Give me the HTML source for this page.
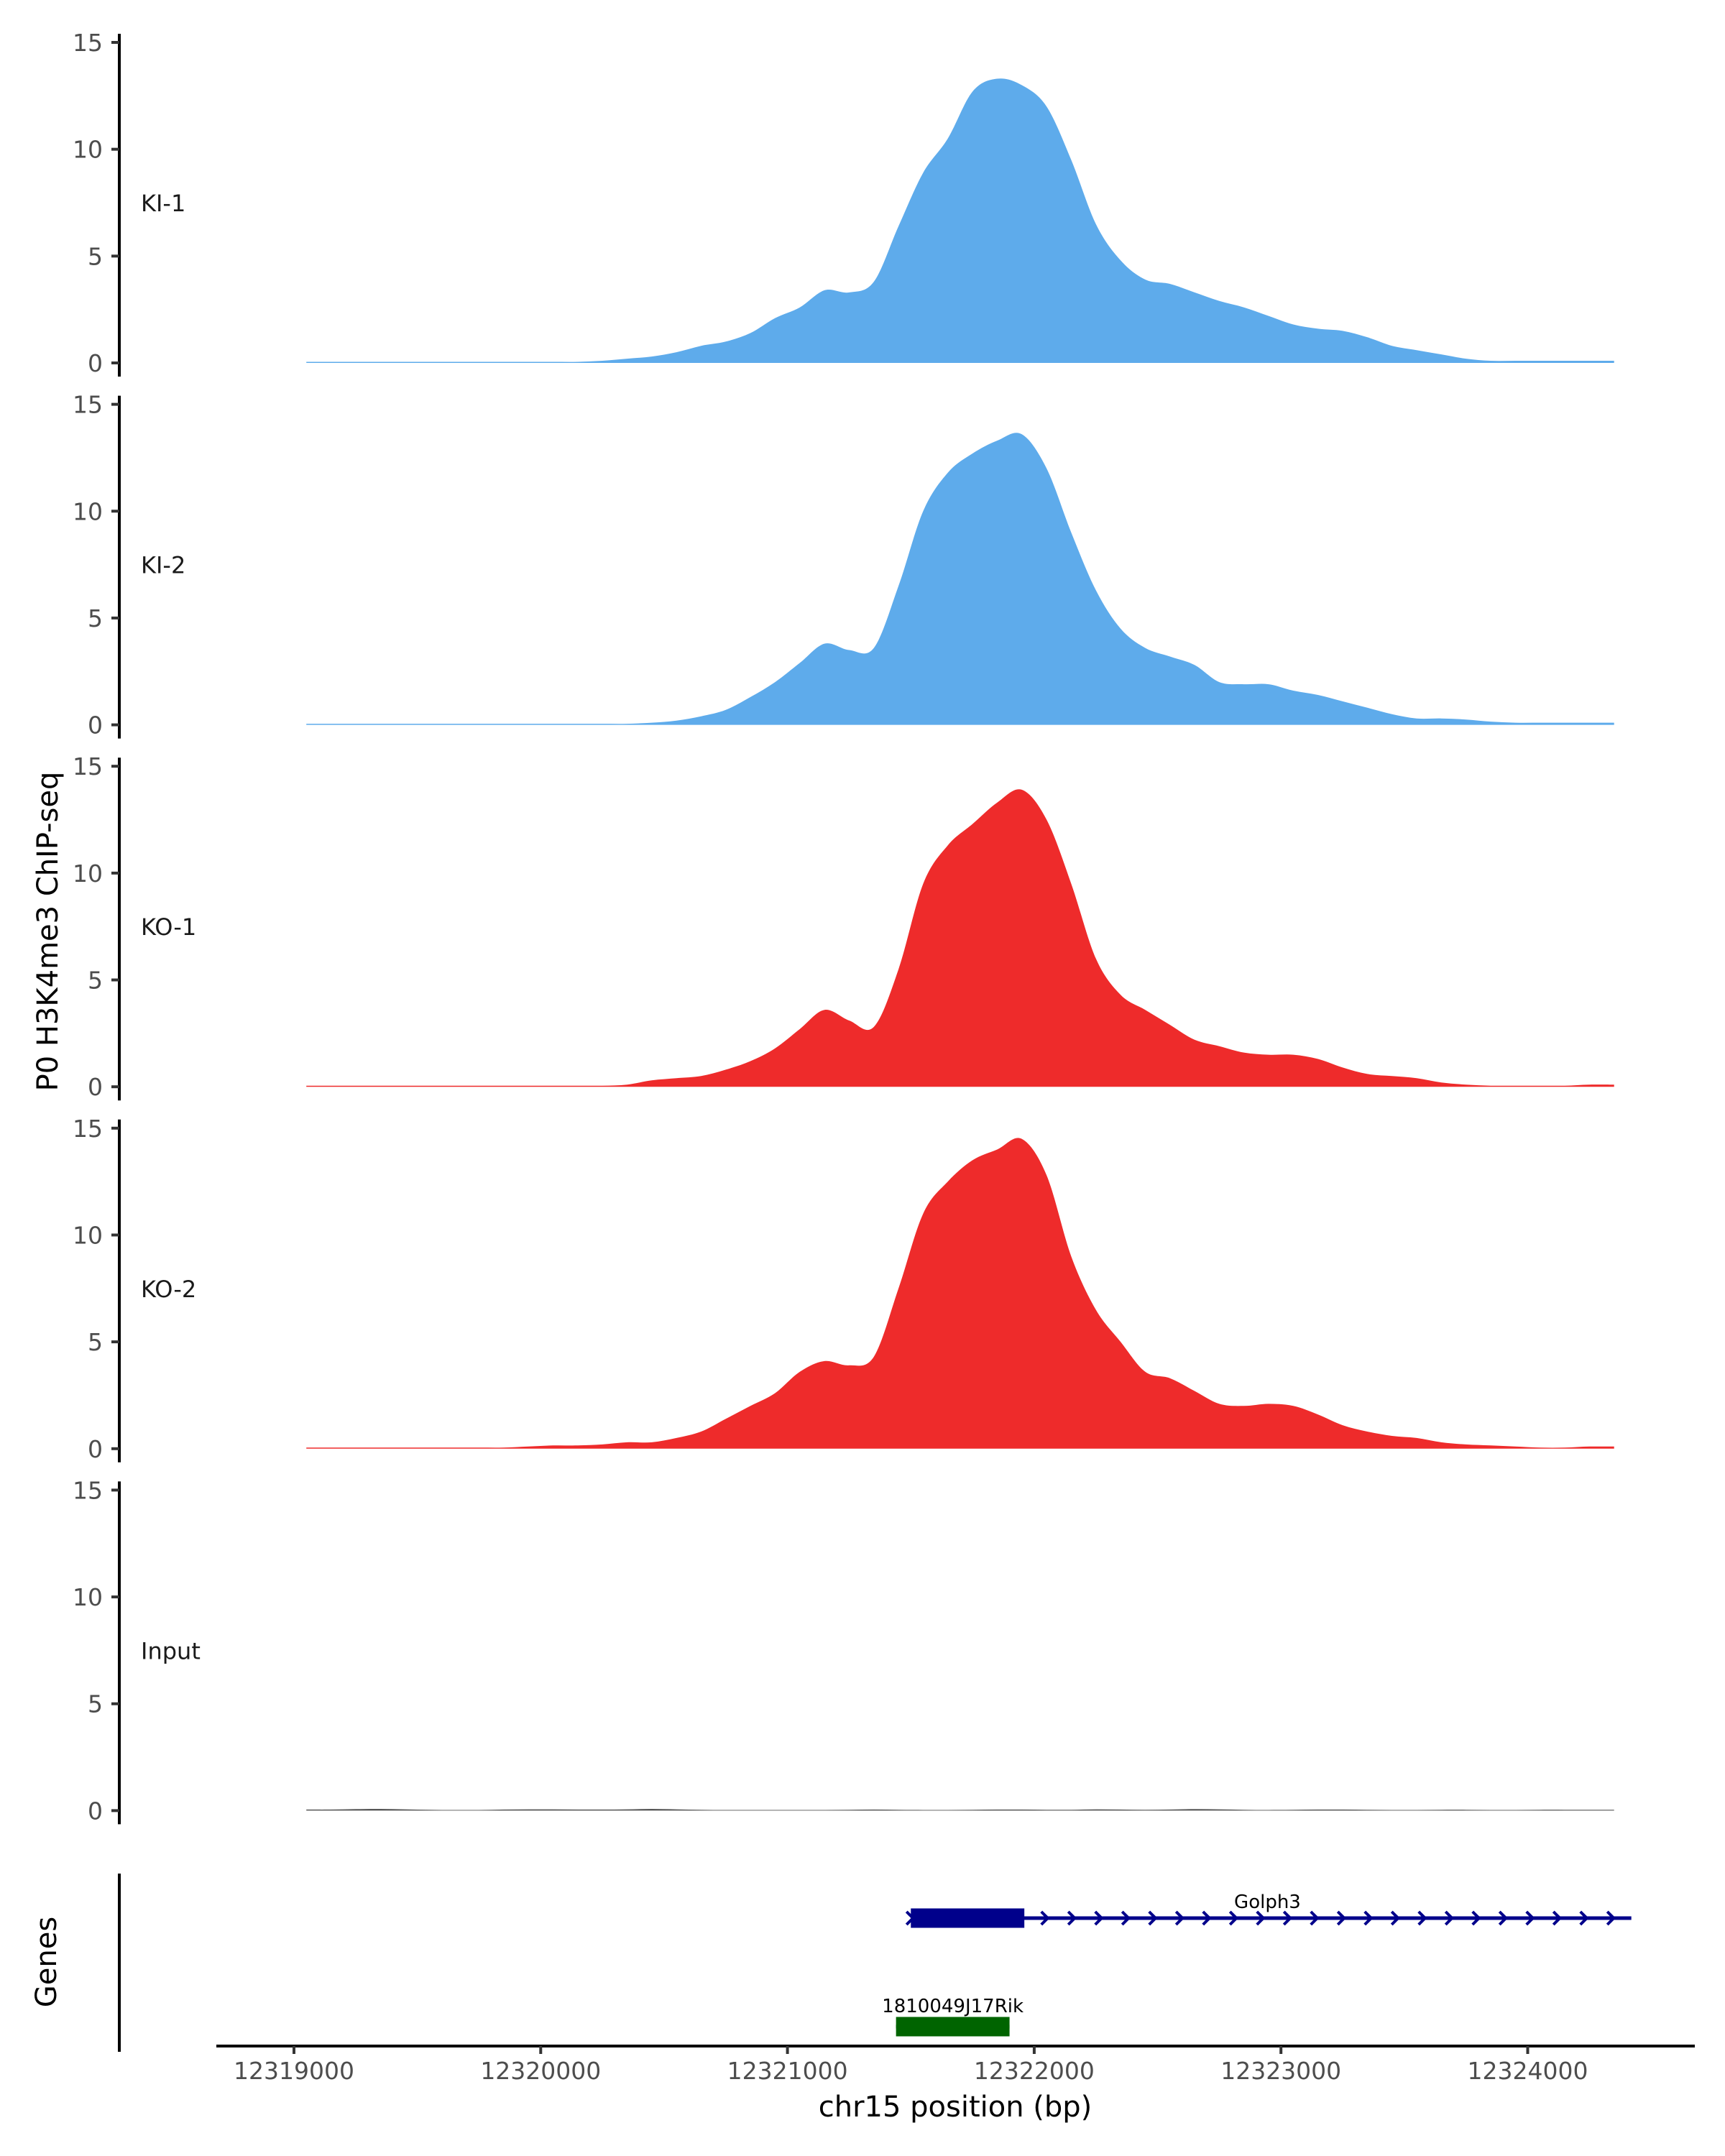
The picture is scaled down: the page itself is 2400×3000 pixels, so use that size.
<!DOCTYPE html>
<html><head><meta charset="utf-8"><style>
html,body{margin:0;padding:0;background:#fff;}
svg{display:block;font-family:"DejaVu Sans","Liberation Sans",sans-serif;}
</style></head><body>
<svg id="chart" width="2400" height="3000" viewBox="0 0 2400 3000"></svg>
<script>
const startBp = 12319050;
const stepBp = 100;
const sampleNames = ["KI-1","KI-2","KO-1","KO-2","Input"];
const sampleColors = ["#5eabeb","#5eabeb","#ee2b2b","#ee2b2b","#555555"];
const ki1 = [0.05,0.05,0.05,0.05,0.05,0.05,0.05,0.05,0.05,0.05,0.05,0.05,0.1,0.2,0.3,0.5,0.8,1.0,1.4,2.1,2.6,3.4,3.3,3.8,6.4,8.9,10.5,12.7,13.3,13.0,12.0,9.5,6.5,4.8,3.9,3.7,3.3,2.9,2.6,2.2,1.8,1.6,1.5,1.2,0.8,0.6,0.4,0.2,0.1,0.1,0.1,0.1,0.1,0.1];
const ki2 = [0.05,0.05,0.05,0.05,0.05,0.05,0.05,0.05,0.05,0.05,0.05,0.05,0.05,0.05,0.1,0.2,0.4,0.7,1.3,2.0,2.9,3.8,3.5,3.6,6.5,10.0,11.8,12.7,13.3,13.6,12.0,9.0,6.3,4.5,3.6,3.2,2.8,2.0,1.9,1.9,1.6,1.4,1.1,0.8,0.5,0.3,0.3,0.25,0.15,0.1,0.1,0.1,0.1,0.1];
const ko1 = [0.05,0.05,0.05,0.05,0.05,0.05,0.05,0.05,0.05,0.05,0.05,0.05,0.05,0.1,0.3,0.4,0.5,0.8,1.2,1.8,2.7,3.6,3.1,2.8,5.5,9.5,11.3,12.3,13.3,13.9,12.5,9.5,6.0,4.3,3.6,2.9,2.2,1.9,1.6,1.5,1.5,1.3,0.9,0.6,0.5,0.4,0.2,0.1,0.05,0.05,0.05,0.05,0.1,0.1];
const ko2 = [0.05,0.05,0.05,0.05,0.05,0.05,0.05,0.05,0.05,0.1,0.15,0.15,0.2,0.3,0.3,0.5,0.8,1.4,2.0,2.6,3.6,4.1,3.9,4.3,7.5,11.0,12.5,13.5,14.0,14.5,12.8,9.0,6.5,5.0,3.6,3.3,2.7,2.1,2.0,2.1,2.0,1.6,1.1,0.8,0.6,0.5,0.3,0.2,0.15,0.1,0.05,0.05,0.1,0.1];
const input = [0.05,0.05,0.07,0.08,0.06,0.04,0.03,0.03,0.05,0.06,0.06,0.05,0.05,0.06,0.08,0.06,0.04,0.03,0.03,0.03,0.03,0.03,0.04,0.05,0.04,0.03,0.03,0.04,0.05,0.05,0.04,0.04,0.06,0.05,0.04,0.05,0.07,0.06,0.04,0.03,0.04,0.05,0.05,0.04,0.03,0.03,0.04,0.04,0.03,0.03,0.04,0.04,0.04,0.04];
const seriesValues = [ki1,ki2,ko1,ko2,input];
const yTicks = [0,5,10,15];
const xTicks = [12319000,12320000,12321000,12322000,12323000,12324000];
const geneNames = ["Golph3","1810049J17Rik"];
const geneStarts = [12321500,12321440];
const geneEnds = [12324420,12321900];
const geneCdsStarts = [12321500,12321440];
const geneCdsEnds = [12321960,12321900];
const geneColors = ["#00008b","#006400"];

const NS="http://www.w3.org/2000/svg";
const svg=document.getElementById('chart');
function mk(tag,attrs,parent){const e=document.createElementNS(NS,tag);for(const k in attrs)e.setAttribute(k,attrs[k]);(parent||svg).appendChild(e);return e;}
function xScale(bp){return 409+(bp-12319000)*0.3433;}
const panelGap=503.6, unit=446/15;
function yScale(v,k){return 505+panelGap*k - v*unit;}

function smoothPath(pts){
  let d=`M${pts[0][0]},${pts[0][1]}`;
  for(let i=0;i<pts.length-1;i++){
    const p0=pts[Math.max(0,i-1)],p1=pts[i],p2=pts[i+1],p3=pts[Math.min(pts.length-1,i+2)];
    const c1=[p1[0]+(p2[0]-p0[0])/6,p1[1]+(p2[1]-p0[1])/6];
    const c2=[p2[0]-(p3[0]-p1[0])/6,p2[1]-(p3[1]-p1[1])/6];
    d+=`C${c1[0]},${c1[1]} ${c2[0]},${c2[1]} ${p2[0]},${p2[1]}`;
  }
  return d;
}

sampleNames.forEach((name,k)=>{
  const g=mk('g',{});
  
  
  const y0=yScale(0,k), y15=yScale(15,k);
  const ax=mk('line',{x1:166,x2:166,y1:y15-12,y2:y0+19,stroke:'#000','stroke-width':4},g);
  
  
  yTicks.forEach(t=>{
    const ty=yScale(t,k);
    const tk=mk('line',{x1:155,x2:166,y1:ty,y2:ty,stroke:'#333','stroke-width':4},g);
    
    
    const tl=mk('text',{x:143,y:ty+12,'text-anchor':'end','font-size':33,fill:'#4d4d4d'},g);
    tl.textContent=t;
    
    
  });
  const lab=mk('text',{x:196,y:yScale(7.5,k)+12,'font-size':32,fill:'#1a1a1a'},g);
  lab.textContent=name;
  
  
  const vals=seriesValues[k];
  const pts=vals.map((v,i)=>[xScale(startBp+i*stepBp).toFixed(1),yScale(v,k).toFixed(1)].map(Number));
  const d=smoothPath(pts)+`L${pts[pts.length-1][0]},${y0}L${pts[0][0]},${y0}Z`;
  const area=mk('path',{d:d,fill:sampleColors[k]},g);
  
  
});

const yt=mk('text',{x:0,y:0,'font-size':40,fill:'#000','text-anchor':'middle',transform:'translate(80,1296) rotate(-90)'});
yt.textContent='P0 H3K4me3 ChIP-seq';



const ga=mk('line',{x1:166,x2:166,y1:2607,y2:2855,stroke:'#000','stroke-width':4});


const gt=mk('text',{x:0,y:0,'font-size':40,fill:'#000','text-anchor':'middle',transform:'translate(78,2730) rotate(-90)'});
gt.textContent='Genes';



const rowY=[2669,2820];
geneNames.forEach((name,i)=>{
  const g=mk('g',{});
  
  
  const x1=xScale(geneStarts[i]),x2=xScale(geneEnds[i]),y=rowY[i];
  mk('line',{x1:x1,x2:x2,y1:y,y2:y,stroke:geneColors[i],'stroke-width':5},g);
  if(x2-x1>300){
    for(let cx=x1;cx<=x2+1;cx+=37.5){
      mk('polyline',{points:`${cx-6},${y-9} ${cx+3},${y} ${cx-6},${y+9}`,fill:'none',stroke:geneColors[i],'stroke-width':4},g);
    }
  }
  const cx1=xScale(geneCdsStarts[i]),cx2=xScale(geneCdsEnds[i]);
  mk('rect',{x:cx1,y:y-13.5,width:cx2-cx1,height:27,fill:geneColors[i]},g);
  const lx = i===0 ? (x1+x2)/2 - 5 : (x1+x2)/2;
  const lt=mk('text',{x:lx,y:i===0?2655:2800,'text-anchor':'middle','font-size':26,fill:'#000'},g);
  lt.textContent=name;
  
  
});

const xa=mk('line',{x1:301,x2:2358,y1:2847,y2:2847,stroke:'#000','stroke-width':4});


xTicks.forEach(t=>{
  const x=xScale(t);
  const tk=mk('line',{x1:x,x2:x,y1:2847,y2:2858,stroke:'#333','stroke-width':4});
  
  
  const tl=mk('text',{x:x,y:2893,'text-anchor':'middle','font-size':33,fill:'#4d4d4d'});
  tl.textContent=t;
  
  
});
const xt=mk('text',{x:1329,y:2945,'text-anchor':'middle','font-size':40,fill:'#000'});
xt.textContent='chr15 position (bp)';


</script>
</body></html>
